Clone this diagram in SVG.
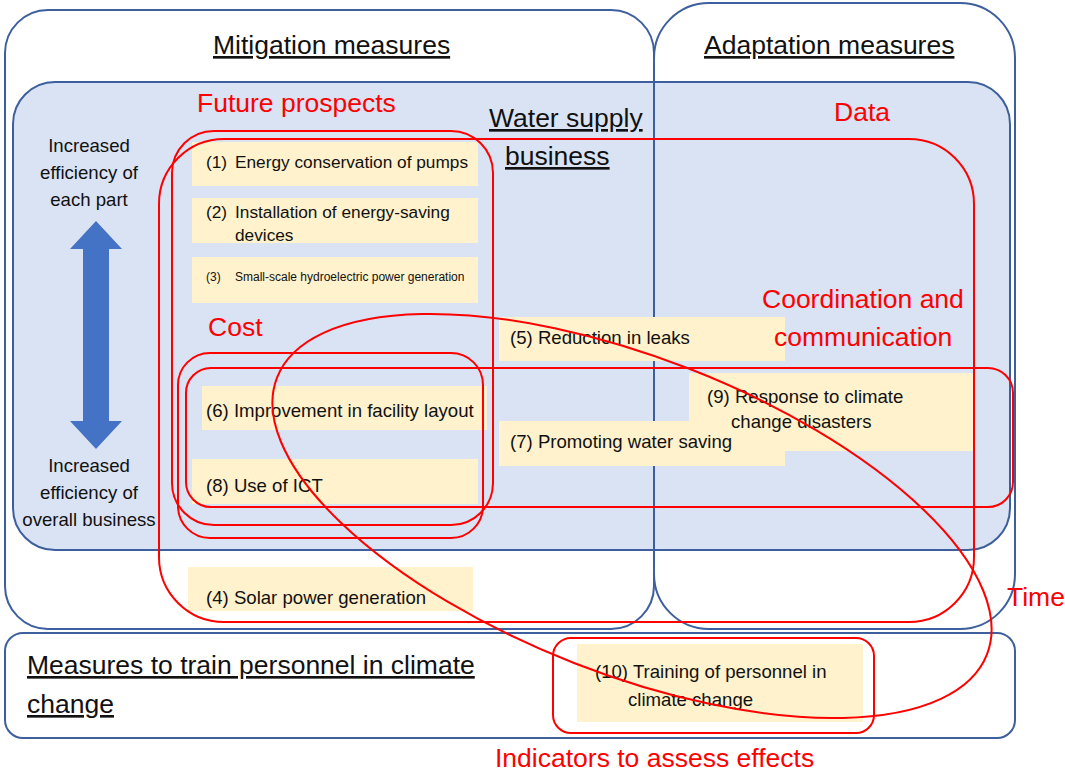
<svg xmlns="http://www.w3.org/2000/svg" width="1065" height="774" viewBox="0 0 1065 774">
<style>
text{font-family:"Liberation Sans",Arial,sans-serif;fill:#111}
.blue{fill:none;stroke:#3d5f9e;stroke-width:2}
.ybox{fill:#fff2cc}
.t18{font-size:18.6px}
.t17{font-size:17.25px}
.t12{font-size:12px}
.title{font-size:26.5px;text-decoration:underline}
.red{fill:none;stroke:#ff0000;stroke-width:2}
.rl{font-size:26.5px;fill:#ff0000}
.side{font-size:18.6px;text-anchor:middle}
</style>
<rect width="1065" height="774" fill="#ffffff"/>
<g id="water-supply-business">
<rect x="13" y="82" width="997" height="468" rx="42" fill="#dae3f3" stroke="#3d5f9e" stroke-width="2"/>
</g>
<g id="mitigation-measures">
<rect class="blue" x="5" y="10" width="649" height="619" rx="43"/>
</g>
<g id="adaptation-measures">
<rect class="blue" x="654" y="3" width="361" height="626" rx="55"/>
</g>
<g id="personnel-measures">
<rect class="blue" x="5" y="633" width="1010" height="105" rx="18"/>
</g>
<g id="item1"><rect class="ybox" x="192" y="142" width="286" height="44"/>
<text class="t17" x="206" y="168">(1)</text><text class="t17" x="235" y="168">Energy conservation of pumps</text></g>
<g id="item2"><rect class="ybox" x="192" y="198" width="286" height="45"/>
<text class="t17" x="206" y="218">(2)</text><text class="t17" x="235" y="218">Installation of energy-saving</text><text class="t17" x="235" y="241">devices</text></g>
<g id="item3"><rect class="ybox" x="192" y="257" width="286" height="46"/>
<text class="t12" x="206" y="281">(3)</text><text class="t12" x="235" y="281">Small-scale hydroelectric power generation</text></g>
<g id="item5"><rect class="ybox" x="499" y="317" width="286" height="44"/>
<text class="t18" x="510" y="344">(5) Reduction in leaks</text></g>
<g id="item6"><rect class="ybox" x="202" y="386" width="285" height="44"/>
<text class="t18" x="206" y="417">(6) Improvement in facility layout</text></g>
<g id="item9"><rect class="ybox" x="689" y="373" width="284" height="78"/>
<text class="t18" x="707" y="403">(9) Response to climate</text><text class="t18" x="731" y="428">change disasters</text></g>
<g id="item7"><path class="ybox" d="M499,421 H689 V451 H785 V466 H499 Z"/>
<text class="t18" x="510" y="448">(7) Promoting water saving</text></g>
<g id="item8"><rect class="ybox" x="192" y="459" width="286" height="45"/>
<text class="t18" x="206" y="492">(8) Use of ICT</text></g>
<g id="item4"><rect class="ybox" x="188" y="567" width="285" height="44"/>
<text class="t18" x="206" y="604">(4) Solar power generation</text></g>
<g id="item10"><rect class="ybox" x="577" y="644" width="286" height="78"/>
<text class="t18" x="595" y="678">(10) Training of personnel in</text><text class="t18" x="628" y="706">climate change</text></g>
<g id="efficiency-arrow">
<path d="M96,221 L122,249 L109,249 L109,421 L122,421 L96,449 L70,421 L83,421 L83,249 L70,249 Z" fill="#4472c4"/>
<text class="side" x="89" y="152">Increased</text>
<text class="side" x="89" y="179">efficiency of</text>
<text class="side" x="89" y="206">each part</text>
<text class="side" x="89" y="472">Increased</text>
<text class="side" x="89" y="499">efficiency of</text>
<text class="side" x="89" y="526">overall business</text>
</g>
<g id="titles">
<text class="title" x="213" y="54">Mitigation measures</text>
<text class="title" x="704" y="54">Adaptation measures</text>
<text class="title" x="489" y="127">Water supply</text>
<text class="title" x="505" y="165">business</text>
<text class="title" x="27" y="674">Measures to train personnel in climate</text>
<text class="title" x="27" y="713">change</text>
</g>
<g id="future-prospects"><rect class="red" x="172" y="131" width="321" height="394" rx="42"/>
<text class="rl" x="197" y="112">Future prospects</text></g>
<g id="data"><rect class="red" x="159" y="139" width="815" height="483" rx="65"/>
<text class="rl" x="834" y="121">Data</text></g>
<g id="cost"><rect class="red" x="178" y="353" width="305" height="185" rx="32"/>
<text class="rl" x="208" y="336">Cost</text></g>
<g id="coordination"><rect class="red" x="186" y="368" width="827" height="139" rx="25"/>
<text class="rl" x="762" y="308">Coordination and</text>
<text class="rl" x="774" y="346">communication</text></g>
<g id="time"><ellipse class="red" cx="0" cy="0" rx="381" ry="158" transform="translate(632 516) rotate(21.3)"/>
<text class="rl" x="1007" y="606">Time</text></g>
<g id="indicators"><rect class="red" x="553" y="638" width="321" height="95" rx="18"/>
<text class="rl" x="495" y="767">Indicators to assess effects</text></g>
</svg>
